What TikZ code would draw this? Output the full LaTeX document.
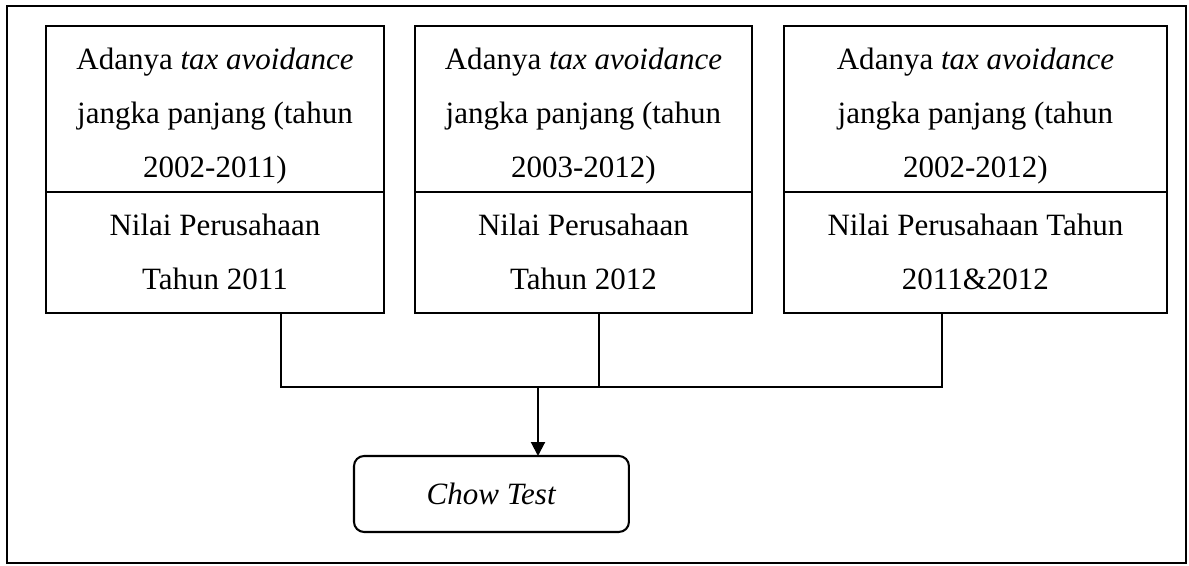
\documentclass[tikz,border=0pt]{standalone}
\usepackage{fontspec}
\setmainfont{Liberation Serif}
\usetikzlibrary{positioning}
\usetikzlibrary{calc}
\usetikzlibrary{arrows.meta}

\newcommand\taxstrut{\rule{0pt}{14pt}}
\tikzset{
  taxbox/.style={draw, outer sep=0pt, inner sep=2pt, align=center, minimum height=64.2pt,
    font=\fontsize{12}{20.9}\selectfont},
  nilaibox/.style={draw, outer sep=0pt, inner sep=2pt, align=center, minimum height=46.8pt,
    font=\fontsize{12}{20.9}\selectfont},
}

\begin{document}
\begin{tikzpicture}[x={(0.387pt,0)}, y={(0,-0.387pt)}, line width=0.8pt]
  \useasboundingbox (0,0) rectangle (1189,566);
  \draw (7,6) rectangle (1186,563);

  \node[taxbox, minimum width=130.8pt, anchor=north west] (tax1) at (46,26)
    {\taxstrut Adanya \textit{tax avoidance}\\jangka panjang (tahun\\2002-2011)};
  \node[taxbox, minimum width=130.4pt, anchor=north west] (tax2) at (415,26)
    {\taxstrut Adanya \textit{tax avoidance}\\jangka panjang (tahun\\2003-2012)};
  \node[taxbox, minimum width=148.2pt, anchor=north west] (tax3) at (784,26)
    {\taxstrut Adanya \textit{tax avoidance}\\jangka panjang (tahun\\2002-2012)};

  \node[nilaibox, minimum width=130.8pt, below=0pt of tax1] (nilai1) {Nilai Perusahaan\\Tahun 2011};
  \node[nilaibox, minimum width=130.4pt, below=0pt of tax2] (nilai2) {Nilai Perusahaan\\Tahun 2012};
  \node[nilaibox, minimum width=148.2pt, below=0pt of tax3] (nilai3) {Nilai Perusahaan Tahun\\2011\&2012};

  \node[draw, rounded corners=3.9pt, outer sep=0pt, minimum width=106.4pt, minimum height=29.4pt,
    font=\fontsize{12}{14}\selectfont, anchor=north west] (chow) at (354,456) {\textit{Chow Test}};

  \coordinate (p1) at ($(nilai1.south west)!0.695!(nilai1.south east)$);
  \coordinate (p2) at ($(nilai2.south west)!0.546!(nilai2.south east)$);
  \coordinate (p3) at ($(nilai3.south west)!0.413!(nilai3.south east)$);
  \coordinate (join) at (538,387);

  \path[draw] (p1) |- (join) -| (p3);
  \path[draw] (p2) -- (p2 |- join);
  \path[draw, arrows=-{Triangle[length=5.4pt,width=5.4pt]}] (join) -- (join |- chow.north);
\end{tikzpicture}
\end{document}
